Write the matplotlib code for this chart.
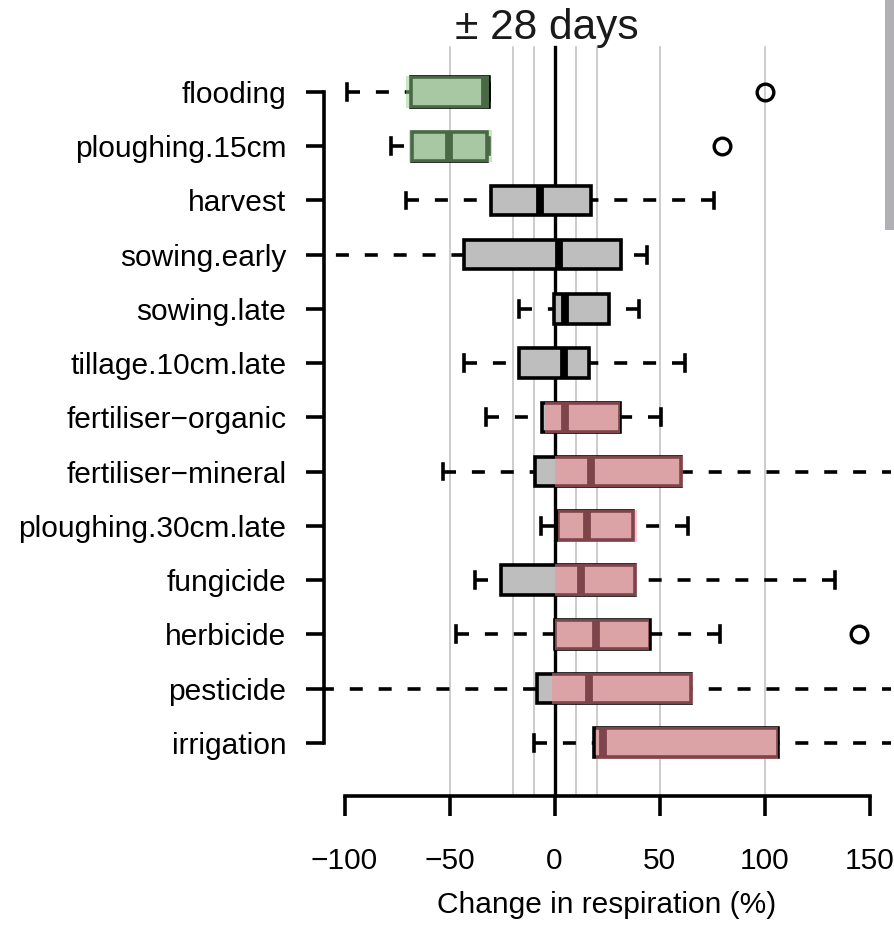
import numpy as np
import matplotlib.pyplot as plt
from matplotlib.patches import Rectangle

plt.rcParams['font.family'] = ['Liberation Sans', 'DejaVu Sans']

# treatments, top row first
categories = ["flooding", "ploughing.15cm", "harvest", "sowing.early", "sowing.late",
              "tillage.10cm.late", "fertiliser\u2212organic", "fertiliser\u2212mineral",
              "ploughing.30cm.late", "fungicide", "herbicide", "pesticide", "irrigation"]

# box statistics, change in respiration (%)
whislo = [-99, -78, -70.7, -118, -16.9, -42.9, -32.6, -53.2, -6.6, -38, -46.7, -125, -9.6]
q1 = [-68.3, -68, -30.2, -43.1, -0.2, -17.1, -6, -9.3, 1.8, -25.7, 0, -8.5, 19]
med = [-33, -50.2, -6.9, 2.1, 5, 4.5, 5, 17.4, 15.3, 12.7, 19.9, 16.3, 23]
q3 = [-31.2, -32.3, 17.4, 31.5, 26, 16.3, 31.3, 60.1, 37.5, 38.4, 45.3, 64.9, 106.3]
whishi = [-31.2, -31, 75.9, 43.9, 40.4, 62.1, 50.7, 175, 63.4, 133.5, 78.6, 170, 180]
outliers = [[100.2], [79.6], [], [], [], [], [], [], [], [], [-114.5, 144.9], [], []]

# significant part of each effect (decrease / increase)
sig_lo = [-70.7, -69.1, None, None, None, None, -4.5, 0.2, 1.8, 0, 0, -1.3, 19.9]
sig_hi = [-31.2, -29.9, None, None, None, None, 31.3, 61, 39.1, 39.5, 44.9, 65.8, 106.3]
sig_dir = ["dec", "dec", None, None, None, None, "inc", "inc", "inc", "inc", "inc", "inc", "inc"]

grid_at = [-50, -20, -10, 10, 20, 50, 100]
xticks = [-100, -50, 0, 50, 100, 150]

sig_col = {"dec": (146/255, 210/255, 138/255, 0.5),
           "inc": (250/255, 138/255, 146/255, 0.5)}

lw = 2.6

fig = plt.figure(figsize=(8.95, 9.34), dpi=100)
ax = fig.add_axes([0.3615, 0.1478, 0.6335, 0.8107])

n = len(categories)
pos = np.arange(n, 0, -1)
ax.set_xlim(-110, 160)
ax.set_ylim(0.02, n + 0.98)

for g in grid_at:
    ax.plot([g, g], [0.02, n + 0.83], color='#bebebe', lw=1.1, zorder=0)
ax.plot([0, 0], [0.02, n + 0.83], color='black', lw=2.4, zorder=0.5)

stats = []
for i in range(n):
    stats.append(dict(med=med[i], q1=q1[i], q3=q3[i], whislo=whislo[i],
                      whishi=whishi[i], fliers=outliers[i]))

bp = ax.bxp(stats, positions=pos, widths=0.54, capwidths=0.29,
            orientation='horizontal', patch_artist=True, manage_ticks=False,
            boxprops=dict(facecolor='#bebebe', edgecolor='black', linewidth=lw),
            whiskerprops=dict(color='black', linewidth=lw, linestyle=(0, (3.6, 4.4)),
                              dash_capstyle='butt'),
            capprops=dict(color='black', linewidth=lw),
            medianprops=dict(color='black', linewidth=5.6, solid_capstyle='butt'),
            flierprops=dict(marker='o', markerfacecolor='none', markeredgecolor='black',
                            markersize=12, markeredgewidth=2.4))

# dashes start at the caps
for w in bp['whiskers']:
    w.set_xdata(w.get_xdata()[::-1])

for i in range(n):
    if sig_dir[i] is None:
        continue
    ax.barh(pos[i], sig_hi[i] - sig_lo[i], left=sig_lo[i], height=0.58,
            color=sig_col[sig_dir[i]], linewidth=0, zorder=3)

for s in ['top', 'right']:
    ax.spines[s].set_visible(False)
ax.spines['left'].set_bounds(1, n)
ax.spines['bottom'].set_bounds(-100, 150)
ax.spines['left'].set_linewidth(lw)
ax.spines['bottom'].set_linewidth(lw)

ax.set_yticks(pos, categories)
ax.set_xticks(xticks)
ax.tick_params(axis='y', length=13, width=lw, pad=13.7, labelsize=21.5)
ax.tick_params(axis='x', length=14.4, width=lw, pad=22, labelsize=21.5)
ax.set_xlabel("Change in respiration (%)", fontsize=21.5, labelpad=12)

fig.text(547/895, 1 - 39/934, "\u00b1 28 days", ha='center', va='baseline', fontsize=30.5,
         color='#1a1a1a')

# edge of the neighbouring panel
fig.add_artist(Rectangle((885/895, 1 - 230/934), 10/895, 230/934,
                         transform=fig.transFigure, color='#b1b1b5', lw=0))

fig.savefig("out.png", dpi=100)
